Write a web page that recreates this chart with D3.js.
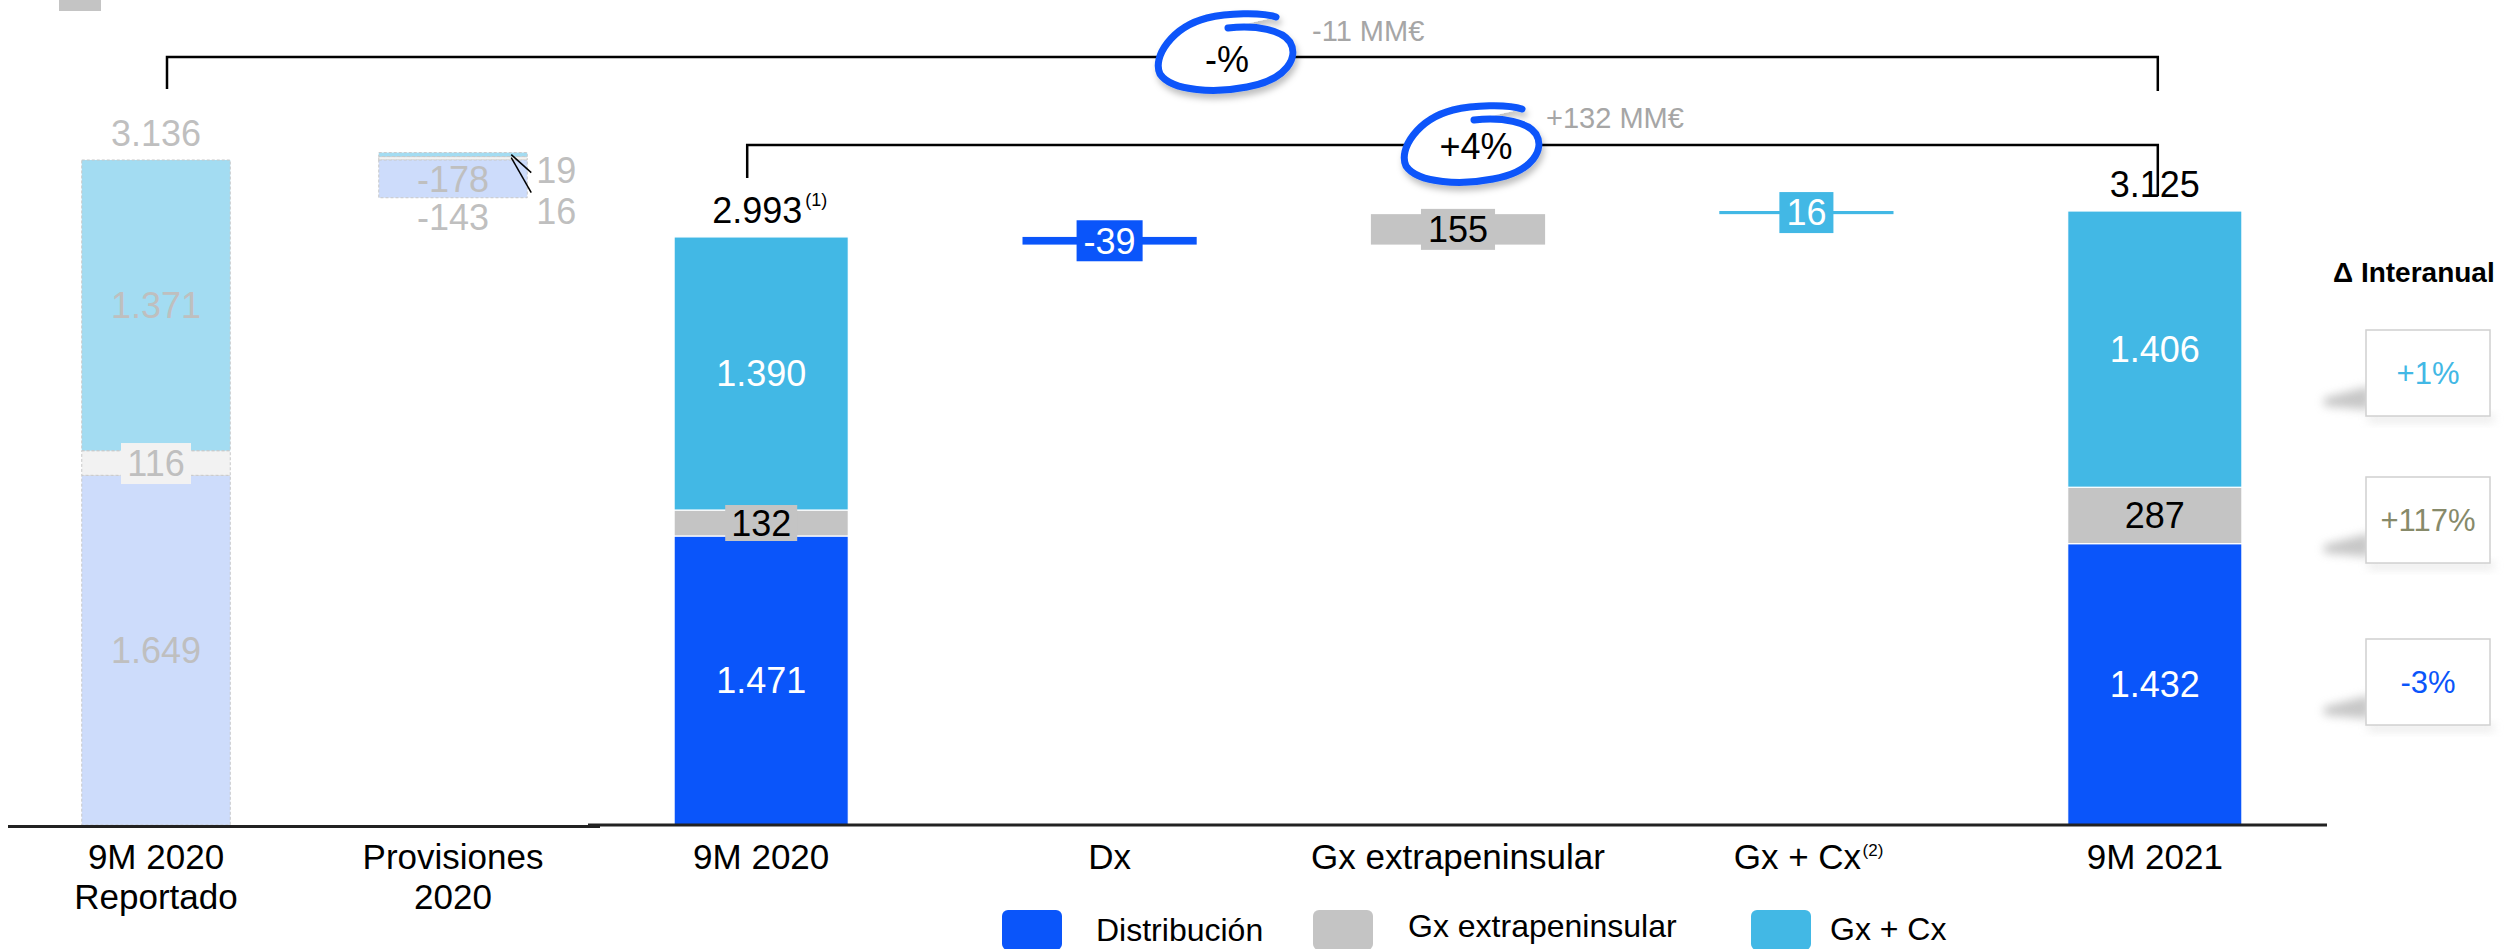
<!DOCTYPE html>
<html>
<head>
<meta charset="utf-8">
<script src="https://cdn.jsdelivr.net/npm/d3@7/dist/d3.min.js"></script>
<style>
  html, body { margin: 0; padding: 0; background: #fff; }
  svg { display: block; font-family: "Liberation Sans", Arial, sans-serif; }
</style>
</head>
<body>
<svg id="chart" width="2504" height="949"></svg>
<script>
// ---- data (MM€) ----
const categories = ["9M 2020", "Dx", "Gx extrapeninsular", "Gx + Cx", "9M 2021"];
const series = ["Distribución", "Gx extrapeninsular", "Gx + Cx"];
const values2020 = [1471, 132, 1390];          // 9M 2020 by series
const values2021 = [1432, 287, 1406];          // 9M 2021 by series
const deltas = [-39, 155, 16];                 // Dx, Gx extrapeninsular, Gx + Cx
const ghostCategories = ["9M 2020 Reportado", "Provisiones 2020"];
const reported2020 = [1649, 116, 1371];        // 9M 2020 reportado by series
const provisiones = [-178, 16, 19];            // Dx, Gx extrapeninsular, Gx + Cx
const interanualLabels = ["-3%", "+117%", "+1%"]; // Distribución, Gx extra, Gx + Cx
const bracketPct = ["-%", "+4%"];
const bracketAbs = ["-11 MM€", "+132 MM€"];
const totalLabels2020 = ["2.993", "(1)"];

const colors = ["#0A55FA", "#C4C4C4", "#42B8E5"];
const ghostColors = ["#CDDCFB", "#F2F2F2", "#A3DCF2"];
const interColors = ["#0A55FA", "#878A6A", "#42B8E5"];
const ghostText = "#BFBFBF";

const fmt = v => d3.format(",")(Math.abs(v)).replace(/,/g, ".");
const fmtS = v => (v < 0 ? "-" : "") + fmt(v);

const svg = d3.select("#chart");
const defs = svg.append("defs");
defs.append("filter").attr("id", "soft").attr("x", "-50%").attr("y", "-80%").attr("width", "200%").attr("height", "260%")
  .append("feGaussianBlur").attr("stdDeviation", 5);
const ds = defs.append("filter").attr("id", "dshadow").attr("x", "-30%").attr("y", "-30%").attr("width", "160%").attr("height", "170%");
ds.append("feDropShadow").attr("dx", 2).attr("dy", 5).attr("stdDeviation", 3).attr("flood-color", "#000").attr("flood-opacity", 0.25);

// ---- scales ----
const base = 825;
const xR = d3.scaleBand().domain(categories).range([587, 2329]).paddingInner(0.5).paddingOuter(0.25);
const xL = d3.scaleBand().domain(ghostCategories).range([7.5, 601.5]).paddingInner(0.5).paddingOuter(0.25);
const yR = d3.scaleLinear().domain([0, d3.sum(values2021)]).range([base, 211]);
const yL = d3.scaleLinear().domain([0, d3.sum(reported2020)]).range([base, 160]);

const FS = 36;
const capHalf = FS * 0.716 / 2;

function valueText(g, x, yc, txt, fill, size) {
  const s = size || FS;
  return g.append("text").attr("x", x).attr("y", yc + s * 0.716 / 2)
    .attr("text-anchor", "middle").attr("font-size", s).attr("fill", fill).text(txt);
}

// ---- ghost (reported) bars ----
const gGhost = svg.append("g");
function stackOf(vals) {
  let acc = 0;
  return vals.map((v, i) => { const d = { i, v, y0: acc, y1: acc + v }; acc += v; return d; });
}
const repStack = stackOf(reported2020);
gGhost.selectAll("rect.rep").data(repStack).join("rect")
  .attr("x", xL(ghostCategories[0])).attr("width", xL.bandwidth())
  .attr("y", d => yL(d.y1)).attr("height", d => yL(d.y0) - yL(d.y1))
  .attr("fill", d => ghostColors[d.i])
  .attr("stroke", "#C8C8C8").attr("stroke-width", 1).attr("stroke-dasharray", "3,2");
const repCx = xL(ghostCategories[0]) + xL.bandwidth() / 2;
repStack.forEach(d => {
  const yc = (yL(d.y0) + yL(d.y1)) / 2;
  if (d.i === 1) {
    gGhost.append("rect").attr("x", repCx - 35).attr("y", yc - 20).attr("width", 70).attr("height", 41).attr("fill", ghostColors[1]);
  }
  valueText(gGhost, repCx, yc, fmt(d.v), ghostText);
});
valueText(gGhost, repCx, yL(d3.sum(reported2020)) - 14 - capHalf, fmt(d3.sum(reported2020)), ghostText);

// provisiones: increases stack on top of the reported total, decrease hangs below it
const repTotal = d3.sum(reported2020);
const provX = xL(ghostCategories[1]);
const provCx = provX + xL.bandwidth() / 2;
const provSegs = [];
let up = repTotal;
[1, 2].forEach(i => { provSegs.push({ i, y0: up, y1: up + provisiones[i] }); up += provisiones[i]; });
provSegs.push({ i: 0, y0: repTotal + provisiones[0], y1: repTotal });
gGhost.selectAll("rect.prov").data(provSegs).join("rect")
  .attr("x", provX).attr("width", xL.bandwidth())
  .attr("y", d => yL(d.y1)).attr("height", d => yL(d.y0) - yL(d.y1))
  .attr("fill", d => ghostColors[d.i])
  .attr("stroke", "#C8C8C8").attr("stroke-width", 1).attr("stroke-dasharray", "3,2");
const dxSeg = provSegs[2];
valueText(gGhost, provCx, (yL(dxSeg.y0) + yL(dxSeg.y1)) / 2, fmtS(provisiones[0]), ghostText);
const provNet = d3.sum(provisiones);
gGhost.append("text").attr("x", provCx).attr("y", yL(dxSeg.y0) + 32).attr("text-anchor", "middle")
  .attr("font-size", FS).attr("fill", ghostText).text(fmtS(provNet));
// side labels for the two small increases, with leader lines
const provRight = provX + xL.bandwidth();
gGhost.append("text").attr("x", provRight + 9).attr("y", yL(up) + 30).attr("font-size", FS).attr("fill", ghostText).text(fmt(provisiones[2]));
gGhost.append("text").attr("x", provRight + 9).attr("y", yL(up) + 71).attr("font-size", FS).attr("fill", ghostText).text(fmt(provisiones[1]));
gGhost.append("line").attr("x1", provRight - 16).attr("y1", yL(up) + 2).attr("x2", provRight + 4).attr("y2", yL(up) + 20)
  .attr("stroke", "#000").attr("stroke-width", 1.5);
gGhost.append("line").attr("x1", provRight - 16).attr("y1", yL(up) + 5).attr("x2", provRight + 4).attr("y2", yL(up) + 40)
  .attr("stroke", "#000").attr("stroke-width", 1.5);

// ---- main stacked totals ----
const gMain = svg.append("g");
function drawTotal(cat, vals) {
  const st = stackOf(vals);
  const x0 = xR(cat), bw = xR.bandwidth(), cx = x0 + bw / 2;
  gMain.append("g").selectAll("rect").data(st).join("rect")
    .attr("x", x0).attr("width", bw)
    .attr("y", d => yR(d.y1)).attr("height", d => yR(d.y0) - yR(d.y1))
    .attr("fill", d => colors[d.i]).attr("stroke", "#fff").attr("stroke-width", 1.2);
  st.forEach(d => {
    const yc = (yR(d.y0) + yR(d.y1)) / 2;
    const dark = d.i === 1;
    if (dark && (yR(d.y0) - yR(d.y1)) < 36) {
      gMain.append("rect").attr("x", cx - 36).attr("y", yc - 18).attr("width", 72).attr("height", 36).attr("fill", colors[1]);
    }
    valueText(gMain, cx, yc, fmt(d.v), dark ? "#000" : "#fff");
  });
  return { cx, top: yR(d3.sum(vals)) };
}
const t2020 = drawTotal("9M 2020", values2020);
const t2021 = drawTotal("9M 2021", values2021);

// total labels above the bars
const lab2020 = gMain.append("text").attr("x", t2020.cx - 4).attr("y", t2020.top - 14)
  .attr("text-anchor", "middle").attr("font-size", FS).attr("fill", "#000").text(totalLabels2020[0]);
const lbb = lab2020.node().getBBox();
gMain.append("text").attr("x", lbb.x + lbb.width + 3).attr("y", t2020.top - 31)
  .attr("font-size", 18).attr("fill", "#000").text(totalLabels2020[1]);
gMain.append("text").attr("x", t2021.cx).attr("y", t2021.top - 14)
  .attr("text-anchor", "middle").attr("font-size", FS).attr("fill", "#000").text(fmt(d3.sum(values2021)));

// ---- waterfall steps ----
let running = d3.sum(values2020);
deltas.forEach((dv, i) => {
  const cat = categories[i + 1];
  const y0 = running, y1 = running + dv;
  running = y1;
  const x0 = xR(cat), bw = xR.bandwidth(), cx = x0 + bw / 2;
  const top = yR(Math.max(y0, y1)), bot = yR(Math.min(y0, y1));
  gMain.append("rect").attr("x", x0).attr("width", bw).attr("y", top).attr("height", bot - top).attr("fill", colors[i]);
  const yc = (top + bot) / 2;
  const t = gMain.append("text").attr("x", cx).attr("y", yc + capHalf).attr("text-anchor", "middle")
    .attr("font-size", FS).attr("fill", i === 1 ? "#000" : "#fff").text(fmtS(dv));
  const tw = t.node().getComputedTextLength();
  gMain.insert("rect", function () { return t.node(); })
    .attr("x", cx - tw / 2 - 7).attr("y", yc - 20.5).attr("width", tw + 14).attr("height", 41).attr("fill", colors[i]);
});

// ---- axis baselines & category labels ----
const gAxis = svg.append("g");
gAxis.append("line").attr("x1", 8).attr("x2", 600).attr("y1", base + 1.5).attr("y2", base + 1.5).attr("stroke", "#222").attr("stroke-width", 3);
gAxis.append("line").attr("x1", 588).attr("x2", 2327).attr("y1", base).attr("y2", base).attr("stroke", "#222").attr("stroke-width", 3);

function catLabel(cx, lines, sup) {
  const shift = sup ? -9 : 0;
  const t = gAxis.append("text").attr("text-anchor", "middle").attr("font-size", 35).attr("fill", "#000");
  lines.forEach((l, k) => t.append("tspan").attr("x", cx + shift).attr("y", 869 + k * 40).text(l));
  if (sup) {
    const bb = t.node().getBBox();
    gAxis.append("text").attr("x", bb.x + bb.width + 1).attr("y", 856).attr("font-size", 17).attr("fill", "#000").text(sup);
  }
}
catLabel(xL(ghostCategories[0]) + xL.bandwidth() / 2, ["9M 2020", "Reportado"]);
catLabel(xL(ghostCategories[1]) + xL.bandwidth() / 2, ["Provisiones", "2020"]);
categories.forEach(c => {
  if (c === "Gx + Cx") catLabel(xR(c) + xR.bandwidth() / 2, [c], "(2)");
  else catLabel(xR(c) + xR.bandwidth() / 2, [c]);
});

// ---- legend ----
const gLeg = svg.append("g");
const legendItems = [
  { sx: 1002, tx: 1096, ty: 941 },
  { sx: 1313, tx: 1408, ty: 937 },
  { sx: 1751, tx: 1830, ty: 940 }
];
series.forEach((s, i) => {
  const L = legendItems[i];
  gLeg.append("rect").attr("x", L.sx).attr("y", 910).attr("width", 60).attr("height", 40).attr("rx", 6).attr("fill", colors[i]);
  gLeg.append("text").attr("x", L.tx).attr("y", L.ty).attr("font-size", 32).attr("fill", "#000").text(s);
});

// ---- comparison brackets ----
const gBr = svg.append("g").attr("fill", "none").attr("stroke", "#000").attr("stroke-width", 2.5);
const repCenter = repCx, c2020 = t2020.cx, c2021 = t2021.cx;
gBr.append("path").attr("d", `M${repCenter + 11},89 V57 H${c2021 + 3} V91`);
gBr.append("path").attr("d", `M${c2020 - 14},178 V145 H${c2021 + 3} V196`);

// hand-drawn loops around the percentage changes
const loopPath = "M1,-24 C30,-27 55,-22 63,-10 C72,5 60,28 20,35 C-10,41 -55,40 -67,22 C-75,5 -55,-25 -20,-34 C0,-39 35,-40 49,-35";
const loops = [{ cx: 1227, cy: 52 }, { cx: 1473, cy: 144 }];
loops.forEach((p, i) => {
  const g = svg.append("g").attr("transform", `translate(${p.cx},${p.cy})`);
  g.append("path").attr("d", loopPath).attr("fill", "#fff").attr("stroke", "#0A55FA")
    .attr("stroke-width", 7).attr("stroke-linecap", "round").attr("filter", "url(#dshadow)");
  g.append("text").attr("x", i === 0 ? 0 : 3).attr("y", i === 0 ? 20 : 15).attr("text-anchor", "middle")
    .attr("font-size", 36).attr("fill", "#000").text(bracketPct[i]);
  g.append("text").attr("x", i === 0 ? 85 : 73).attr("y", i === 0 ? -11 : -16)
    .attr("font-size", 29).attr("fill", "#A6A6A6").text(bracketAbs[i]);
});

// ---- year-on-year change panel ----
const gPanel = svg.append("g");
gPanel.append("text").attr("x", 2333).attr("y", 282).attr("font-size", 28).attr("font-weight", "bold").attr("fill", "#000").text("Δ Interanual");
const boxCenters = [682, 520, 373];   // Distribución, Gx extra, Gx + Cx
interanualLabels.forEach((lab, i) => {
  const yc = boxCenters[i];
  const bx = 2366, bw = 124, bh = 86, by = yc - bh / 2;
  gPanel.append("path")
    .attr("d", `M${bx - 42},${by + bh - 18} L${bx + 4},${by + bh - 30} L${bx + 4},${by + bh - 6} L${bx - 42},${by + bh - 10} Z`)
    .attr("fill", "#9a9a9a").attr("opacity", 0.55).attr("filter", "url(#soft)");
  gPanel.append("rect").attr("x", bx + 2).attr("y", by + bh - 1).attr("width", bw + 2).attr("height", 7)
    .attr("fill", "#d8d8d8").attr("opacity", 0.6).attr("filter", "url(#soft)");
  gPanel.append("rect").attr("x", bx).attr("y", by).attr("width", bw).attr("height", bh)
    .attr("fill", "#fff").attr("stroke", "#D0D0D0").attr("stroke-width", 1.5);
  gPanel.append("text").attr("x", bx + bw / 2).attr("y", yc + 11).attr("text-anchor", "middle")
    .attr("font-size", 31).attr("fill", interColors[i]).text(lab);
});

// small swatch at the top-left corner
svg.append("rect").attr("x", 59).attr("y", 0).attr("width", 42).attr("height", 11).attr("fill", "#C4C4C4");
</script>
</body>
</html>
